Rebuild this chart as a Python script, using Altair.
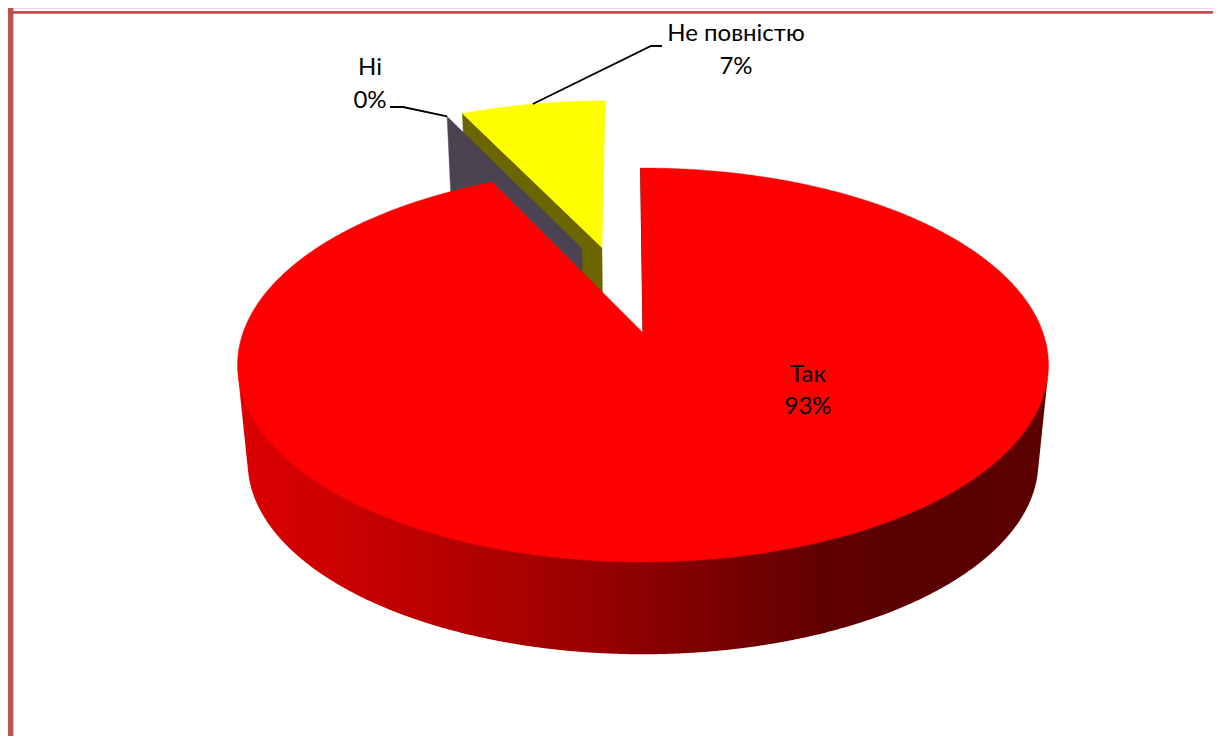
import numpy as np
import pandas as pd
import altair as alt

# ---- data
labels = ["Так", "Ні", "Не повністю"]
shares = [93, 0, 7]
percent_labels = ["93%", "0%", "7%"]

top_colors = {"Так": "#ff0000", "Ні": "#4a4452", "Не повністю": "#ffff00"}
wall_colors = {"Ні": "#4a4452", "Не повністю": "#6b6600"}

# ---- 3D projection parameters (page pixels)
CX, Y0, A, B, K = 643.0, 332.7, 400.0, 191.7, 0.1639
DROP, SHRINK = 98.0, 0.025
ROT = -0.4
EXPLODE = {"Так": (0.0, 0.0, 1.0), "Ні": (-0.1645, 0.4735, 1.01), "Не повністю": (-0.1107, 0.479, 1.03)}
BORDER = "#c0504d"
FONT = "Lato"
FSIZE = 24
XMAX, YMAX = 1213, 736


def project(x, z, level=0.0):
    s = 1 - SHRINK * level
    w = 1 + K * z
    return CX + s * A * x / w, Y0 + DROP * level - s * B * z / w


def slice_angles():
    out, cum = {}, 0.0
    for n, v in zip(labels, shares):
        out[n] = (cum * 3.6 + ROT, (cum + v) * 3.6 + ROT)
        cum += v
    return out


ANG = slice_angles()


def rim(name, deg, level=0.0):
    ex, ez, r = EXPLODE[name]
    t = np.radians(deg)
    return project(ex + r * np.sin(t), ez + r * np.cos(t), level)


def apex(name, level=0.0):
    ex, ez, _ = EXPLODE[name]
    return project(ex, ez, level)


def frame(pts):
    return pd.DataFrame({"x": [p[0] for p in pts], "y": [p[1] for p in pts], "i": range(len(pts))})


X = alt.X("x:Q", scale=alt.Scale(domain=[8, XMAX], range=[0, XMAX - 8]), axis=None)
Y = alt.Y("y:Q", scale=alt.Scale(domain=[YMAX, 8], range=[YMAX - 8, 0]), axis=None)


def polygon(pts, color):
    return alt.Chart(frame(pts + pts[:1])).mark_line(
        fill=color, stroke=color, strokeWidth=0.4
    ).encode(x=X, y=Y, order=alt.Order("i:Q"))


def wall_quad(name, deg):
    return [apex(name), rim(name, deg), rim(name, deg, 1.0), apex(name, 1.0)]


def top_face(name):
    a0, a1 = ANG[name]
    n = max(int(abs(a1 - a0) * 2), 2)
    return [apex(name)] + [rim(name, d) for d in np.linspace(a0, a1, n)]


# red side wall: between the top rim and the envelope of the lower rims
ek = np.sqrt(1 - K**2)
xs = np.linspace(CX - A / ek, CX + A / ek, 800)


def lower_rim(level):
    s = 1 - SHRINK * level
    up, dn = s * B / (1 + K), s * B / (1 - K)
    yc = Y0 + DROP * level + (dn - up) / 2
    b = (dn + up) / 2
    inside = 1 - ((xs - CX) / (s * A / ek)) ** 2
    out = np.full_like(xs, np.nan)
    out[inside >= 0] = yc + b * np.sqrt(inside[inside >= 0])
    return out


top_edge = np.nan_to_num(lower_rim(0.0), nan=Y0 + 32) - 2
env = np.nanmax([lower_rim(l) for l in np.linspace(0, 1, 240)], axis=0)
wall_df = pd.DataFrame({"x": xs, "y": top_edge, "y2": env})
wall_grad = alt.LinearGradient(
    gradient="linear", x1=0, x2=1, y1=0, y2=0,
    stops=[
        alt.GradientStop(offset=0.0, color="#dc0000"),
        alt.GradientStop(offset=0.12, color="#cc0000"),
        alt.GradientStop(offset=0.35, color="#a80000"),
        alt.GradientStop(offset=0.5, color="#8c0000"),
        alt.GradientStop(offset=0.7, color="#640000"),
        alt.GradientStop(offset=0.8, color="#5a0000"),
        alt.GradientStop(offset=1.0, color="#5c0000"),
    ],
)
red_wall = alt.Chart(wall_df).mark_area(color=wall_grad).encode(x=X, y=Y, y2="y2:Q")

# thin dark edge on the wedge gap
a0 = ANG["Так"][0]
edge = alt.Chart(frame([apex("Так"), rim("Так", a0)])).mark_line(
    color="#700000", strokeWidth=1.0).encode(x=X, y=Y, order=alt.Order("i:Q"))

# leader lines, anchored on the slices
a_no = rim("Ні", ANG["Ні"][0])
ya, yb = ANG["Не повністю"]
a_part = rim("Не повністю", ya + 0.5 * (yb - ya))
lead_no = alt.Chart(frame([(390, 107), (403, 107), a_no])).mark_line(
    color="black", strokeWidth=1.8).encode(x=X, y=Y, order=alt.Order("i:Q"))
lead_part = alt.Chart(frame([(662, 46), (651, 46), a_part])).mark_line(
    color="black", strokeWidth=1.8).encode(x=X, y=Y, order=alt.Order("i:Q"))

label_pos = {"Так": (808, 375, 407), "Ні": (370, 67.5, 100.5), "Не повністю": (736, 34, 67)}
rows = []
for n, p in zip(labels, percent_labels):
    lx, y1, y2 = label_pos[n]
    rows.append({"x": lx, "y": y1, "t": n})
    rows.append({"x": lx, "y": y2, "t": p})
text = alt.Chart(pd.DataFrame(rows)).mark_text(
    font=FONT, fontSize=FSIZE, color="black", align="center", baseline="middle"
).encode(x=X, y=Y, text="t:N")

# border of the chart area
border_v = alt.Chart(pd.DataFrame({"x": [10.7], "y": [8], "y2": [YMAX]})).mark_rule(
    color=BORDER, strokeWidth=5.3).encode(x=X, y=Y, y2="y2:Q")
border_h = alt.Chart(pd.DataFrame({"x": [8], "x2": [XMAX], "y": [12.4]})).mark_rule(
    color=BORDER, strokeWidth=2.8).encode(x=X, x2="x2:Q", y=Y)

chart = alt.layer(
    polygon(wall_quad("Не повністю", ANG["Не повністю"][0]), wall_colors["Не повністю"]),
    polygon(top_face("Не повністю"), top_colors["Не повністю"]),
    polygon(wall_quad("Ні", ANG["Ні"][0]), wall_colors["Ні"]),
    red_wall,
    edge,
    polygon(top_face("Так"), top_colors["Так"]),
    lead_no,
    lead_part,
    text,
    border_v,
    border_h,
).properties(width=XMAX - 8, height=YMAX - 8, padding=0, autosize=alt.AutoSizeParams(type="none")).configure_view(stroke=None).configure(background="white")

chart.save("out.html", embed_options={"renderer": "svg", "actions": False})
